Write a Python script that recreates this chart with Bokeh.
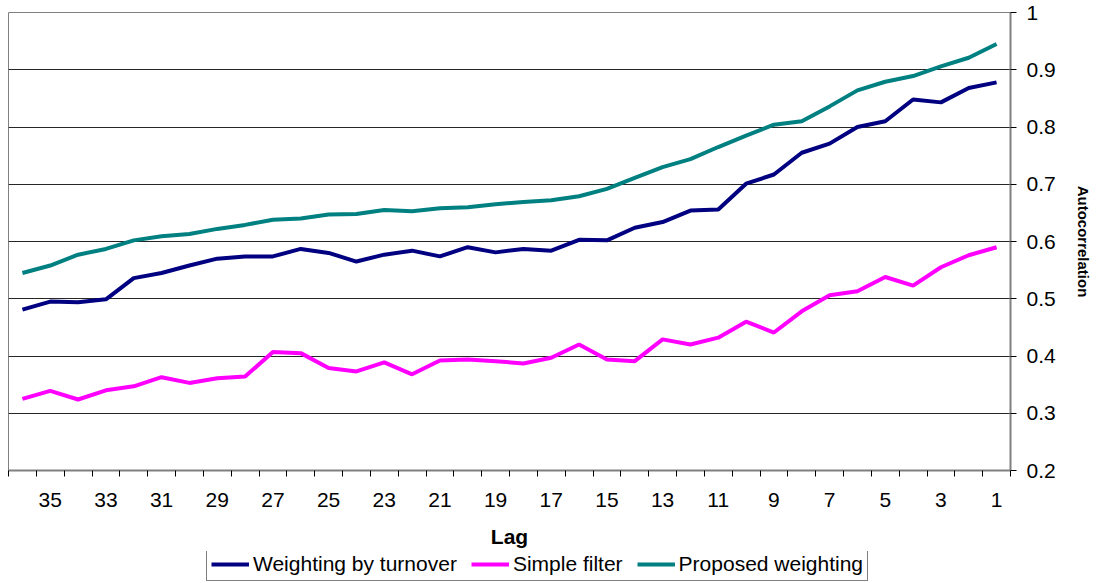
from bokeh.plotting import figure
from bokeh.layouts import column
from bokeh.models import Range1d, FixedTicker, CustomJSTickFormatter, Legend, LegendItem
from bokeh.embed import file_html
from bokeh.resources import INLINE

lags = list(range(36, 0, -1))
turnover = [0.481, 0.495, 0.494, 0.499, 0.536, 0.545, 0.558, 0.570, 0.574, 0.574,
            0.587, 0.580, 0.565, 0.577, 0.584, 0.574, 0.590, 0.581, 0.587, 0.584,
            0.603, 0.602, 0.624, 0.634, 0.654, 0.656, 0.701, 0.717, 0.755, 0.771,
            0.800, 0.810, 0.848, 0.843, 0.868, 0.878]
simple = [0.325, 0.339, 0.324, 0.340, 0.347, 0.363, 0.353, 0.361, 0.364, 0.407,
          0.405, 0.379, 0.373, 0.389, 0.368, 0.392, 0.394, 0.391, 0.387, 0.397,
          0.420, 0.394, 0.391, 0.429, 0.420, 0.432, 0.460, 0.441, 0.478, 0.506,
          0.513, 0.538, 0.523, 0.555, 0.576, 0.590]
proposed = [0.545, 0.558, 0.577, 0.587, 0.602, 0.609, 0.613, 0.622, 0.629, 0.638,
            0.640, 0.647, 0.648, 0.655, 0.653, 0.658, 0.660, 0.665, 0.669, 0.672,
            0.679, 0.692, 0.711, 0.730, 0.744, 0.765, 0.785, 0.804, 0.810, 0.836,
            0.864, 0.879, 0.889, 0.906, 0.921, 0.945]
series_names = ["Weighting by turnover", "Simple filter", "Proposed weighting"]
series_colors = ["#000080", "#FF00FF", "#008080"]
series_values = [turnover, simple, proposed]
y_ticks = [0.2, 0.3, 0.4, 0.5, 0.6, 0.7, 0.8, 0.9, 1.0]
x_label_ticks = [l for l in lags if l % 2 == 1]
x_boundaries = [l + 0.5 for l in lags] + [0.5]

FONT = "Liberation Sans"
LW = 4

p = figure(width=1096, height=551, output_backend="svg", toolbar_location=None,
           x_range=Range1d(36.5, 0.5), y_range=Range1d(0.2, 1.0),
           y_axis_location="right",
           min_border_left=8, min_border_top=12, min_border_right=86, min_border_bottom=81)
p.outline_line_color = "#808080"
p.background_fill_color = "white"
p.border_fill_color = "white"

# x axis
xa = p.xaxis[0]
xa.ticker = FixedTicker(ticks=x_label_ticks, minor_ticks=x_boundaries)
xa.major_tick_line_color = None
xa.minor_tick_line_color = "#000000"
xa.minor_tick_out = 6
xa.minor_tick_in = 0
xa.axis_line_color = "#808080"
xa.axis_line_width = 2
xa.major_label_text_font = FONT
xa.major_label_text_font_size = "21px"
xa.major_label_text_color = "black"
xa.major_label_standoff = 16
xa.axis_label = "Lag"
xa.axis_label_text_font = FONT
xa.axis_label_text_font_size = "21px"
xa.axis_label_text_font_style = "bold"
xa.axis_label_text_color = "black"
xa.axis_label_standoff = 15

# y axis
ya = p.yaxis[0]
ya.ticker = FixedTicker(ticks=y_ticks)
ya.formatter = CustomJSTickFormatter(code="return tick.toFixed(1).replace(/\\.0$/, '');")
ya.minor_tick_line_color = None
ya.major_tick_out = 6
ya.major_tick_in = 0
ya.major_tick_line_color = "#000000"
ya.axis_line_color = "#808080"
ya.axis_line_width = 2
ya.major_label_text_font = FONT
ya.major_label_text_font_size = "21px"
ya.major_label_text_color = "black"
ya.major_label_standoff = 10
ya.axis_label = "Autocorrelation"
ya.axis_label_text_font = FONT
ya.axis_label_text_font_size = "15px"
ya.axis_label_text_font_style = "bold"
ya.axis_label_text_color = "black"
ya.axis_label_standoff = 16

p.xgrid.grid_line_color = None
p.ygrid.ticker = FixedTicker(ticks=y_ticks)
p.ygrid.grid_line_color = "#000000"
p.ygrid.grid_line_alpha = 0.85

for vals, col in zip(series_values, series_colors):
    p.line(lags, vals, line_color=col, line_width=LW)

# legend strip below the chart (proxy lines lie outside its ranges)
lf = figure(width=1096, height=32, output_backend="svg", toolbar_location=None,
            x_range=Range1d(-20, -10), y_range=Range1d(-20, -10),
            x_axis_location=None, y_axis_location=None,
            min_border=0, min_border_left=0, min_border_right=0,
            min_border_top=0, min_border_bottom=0)
lf.grid.visible = False
lf.outline_line_color = None
lf.background_fill_color = "white"
lf.border_fill_color = "white"
items = []
for name, vals, col in zip(series_names, series_values, series_colors):
    r = lf.line(lags, vals, line_color=col, line_width=LW)
    items.append(LegendItem(label=name, renderers=[r]))
legend = Legend(items=items, orientation="horizontal", location=(198, 2),
                label_text_font=FONT, label_text_font_size="21px",
                label_text_color="black", label_standoff=4, label_height=20,
                glyph_width=38, glyph_height=20, spacing=14, padding=4, margin=0,
                border_line_color="black", border_line_width=1,
                background_fill_color="white")
lf.add_layout(legend, "center")

layout = column(p, lf, spacing=0)
open("out.html", "w").write(file_html(layout, INLINE))
